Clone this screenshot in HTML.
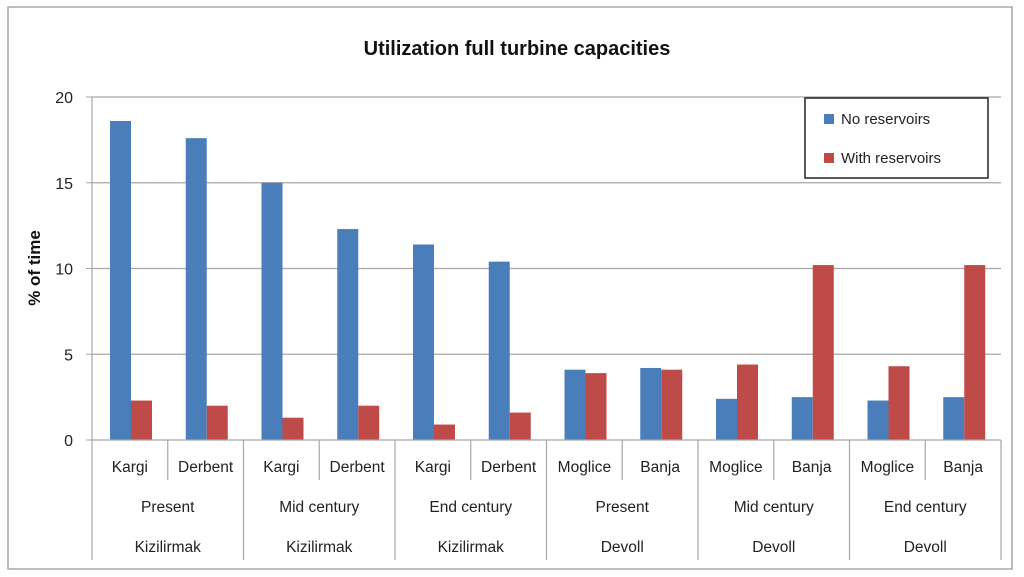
<!DOCTYPE html>
<html><head><meta charset="utf-8"><style>
body{margin:0;background:#fff;}
svg{display:block;font-family:"Liberation Sans",sans-serif;}
</style></head><body>
<svg id="c" width="1024" height="577">
<rect x="8" y="7" width="1004" height="562" fill="#fff" stroke="#a6a6a6" stroke-width="1.5"/>
<text x="517" y="55" text-anchor="middle" font-size="20" font-weight="bold" fill="#111">Utilization full turbine capacities</text>
<text transform="translate(40,268) rotate(-90)" text-anchor="middle" font-size="17" font-weight="bold" fill="#111">% of time</text>
<g id="grid"></g><g id="bars"></g><g id="xaxis"></g>
<g>
<rect x="805" y="98" width="183" height="80" fill="#fff" stroke="#222" stroke-width="1.5"/>
<rect x="824" y="114" width="10" height="10" fill="#4a7ebb"/>
<text x="841" y="124" font-size="15" fill="#222">No reservoirs</text>
<rect x="824" y="153" width="10" height="10" fill="#be4b48"/>
<text x="841" y="163" font-size="15" fill="#222">With reservoirs</text>
</g>
</svg>
<script>
const categories=["Kargi","Derbent","Kargi","Derbent","Kargi","Derbent","Moglice","Banja","Moglice","Banja","Moglice","Banja"];
const periods=["Present","Mid century","End century","Present","Mid century","End century"];
const basins=["Kizilirmak","Kizilirmak","Kizilirmak","Devoll","Devoll","Devoll"];
const noReservoirs=[18.6,17.6,15.0,12.3,11.4,10.4,4.1,4.2,2.4,2.5,2.3,2.5];
const withReservoirs=[2.3,2.0,1.3,2.0,0.9,1.6,3.9,4.1,4.4,10.2,4.3,10.2];
const yTicks=[0,5,10,15,20];
const NS="http://www.w3.org/2000/svg";
const X0=92,X1=1001,Y0=440,Y20=97;
const cw=(X1-X0)/categories.length;
const y=v=>Y0-(Y0-Y20)*v/20;
const x=i=>X0+i*cw;
function mk(t,a,p){const e=document.createElementNS(NS,t);for(const k in a)e.setAttribute(k,a[k]);p.appendChild(e);return e;}
const grid=document.getElementById('grid'),bars=document.getElementById('bars'),xa=document.getElementById('xaxis');
yTicks.forEach(t=>{
 if(t>0){const l=mk('line',{x1:X0,x2:X1,y1:y(t),y2:y(t),stroke:'#a6a6a6','stroke-width':1.2},grid);
 
 }
 const tk=mk('line',{x1:X0-6,x2:X0,y1:y(t),y2:y(t),stroke:'#a6a6a6'},grid);
 
 
 const tx=mk('text',{x:73,y:y(t)+6,'text-anchor':'end','font-size':16,fill:'#222'},grid);tx.textContent=t;
 
 
});
const ya=mk('line',{x1:X0,x2:X0,y1:Y20,y2:Y0,stroke:'#a6a6a6','stroke-width':1.2},grid);


const bw=21,off=18;
categories.forEach((c,i)=>{
 const b=mk('rect',{x:x(i)+off,y:y(noReservoirs[i]),width:bw,height:Y0-y(noReservoirs[i]),fill:'#4a7ebb'},bars);
 
 
 const r=mk('rect',{x:x(i)+off+bw,y:y(withReservoirs[i]),width:bw,height:Y0-y(withReservoirs[i]),fill:'#be4b48'},bars);
 
 
 const t=mk('text',{x:x(i)+cw/2,y:472,'text-anchor':'middle','font-size':15.5,fill:'#222'},xa);t.textContent=c;
 
 
});
const xl=mk('line',{x1:X0,x2:X1,y1:Y0,y2:Y0,stroke:'#a6a6a6','stroke-width':1.2},xa);


for(let i=0;i<=categories.length;i++){
 const big=i%2===0;
 const l=mk('line',{x1:x(i),x2:x(i),y1:Y0,y2:big?560:480,stroke:'#a6a6a6','stroke-width':1.2},xa);
 
 
}
periods.forEach((p,j)=>{
 const t=mk('text',{x:x(2*j)+cw,y:512,'text-anchor':'middle','font-size':15.5,fill:'#222'},xa);t.textContent=p;
 
 
 const b=mk('text',{x:x(2*j)+cw,y:552,'text-anchor':'middle','font-size':15.5,fill:'#222'},xa);b.textContent=basins[j];
 
 
});
</script>
</body></html>
